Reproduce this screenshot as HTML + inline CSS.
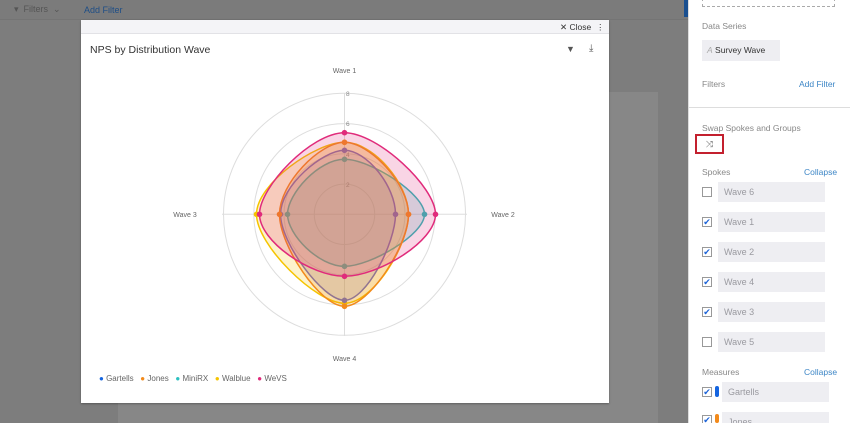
<!DOCTYPE html>
<html><head><meta charset="utf-8"><style>
*{margin:0;padding:0;box-sizing:border-box}
html{width:850px;height:423px;overflow:hidden}
body{width:850px;height:423px;overflow:hidden;background:#7d7d7d;font-family:"Liberation Sans",sans-serif;position:relative}
.abs{position:absolute}
.t{font-size:9px;color:#666}
.lab{font-size:8.5px;color:#888}
.box{position:absolute;left:718px;width:107px;height:20px;background:#eeeef2;color:#9a9aa0;font-size:9px;line-height:20px;padding-left:6px}
.cb{position:absolute;left:702px;width:10px;height:10px;border:1px solid #999;background:#fff;font-size:9px;line-height:8px;color:#1a62d8;text-align:center}
</style></head><body>
<div class="abs" style="left:0;top:0;width:688px;height:20px;background:#7b7b7b;border-bottom:1px solid #747474"></div>
<div class="abs t" style="left:14px;top:4px;color:#555;font-size:9px">▾&nbsp; Filters &nbsp;⌄</div>
<div class="abs t" style="left:84px;top:5px;color:#1e4e86;font-size:9px">Add Filter</div>
<div class="abs" style="left:684px;top:0;width:4px;height:17px;background:#1a4f8f"></div>
<div class="abs" style="left:118px;top:92px;width:540px;height:331px;background:#878787"></div>
<div class="abs" style="left:81px;top:20px;width:528px;height:383px;background:#fff;box-shadow:0 1px 2px rgba(0,0,0,.3)"></div>
<div class="abs" style="left:81px;top:20px;width:528px;height:14px;background:#f4f4f7;border-bottom:1px solid #e2e2e6"></div>
<div class="abs" style="left:560px;top:22px;font-size:8.5px;color:#333">✕ Close&nbsp;&nbsp;⋮</div>
<div class="abs" style="left:90px;top:44px;font-size:10.5px;color:#333">NPS by Distribution Wave</div>
<div class="abs" style="left:566px;top:44px;font-size:9px;color:#555">▼</div>
<div class="abs" style="left:589px;top:43px;font-size:10px;color:#555">⤓</div>
<svg class="abs" style="left:0;top:0" width="850" height="423" id="s">
<g fill="none" stroke="#ddd" stroke-width="1">
<circle cx="344.5" cy="214.3" r="30.2"/><circle cx="344.5" cy="214.3" r="60.5"/><circle cx="344.5" cy="214.3" r="90.7"/><circle cx="344.5" cy="214.3" r="121"/>
<line x1="344.5" y1="93" x2="344.5" y2="336"/><line x1="222" y1="214.3" x2="467" y2="214.3"/>
</g>
<g font-family="Liberation Sans" font-size="6.5" fill="#888">
<text x="346" y="96">8</text><text x="346" y="126">6</text><text x="346" y="157">4</text><text x="346" y="187">2</text>
</g>
<g id="ser"></g>
<g font-family="Liberation Sans" font-size="7" fill="#666" text-anchor="middle">
<text x="344.5" y="73">Wave 1</text><text x="503" y="217">Wave 2</text><text x="185" y="217">Wave 3</text><text x="344.5" y="361">Wave 4</text>
</g>
</svg>
<div class="abs" style="left:99px;top:374px;font-size:8px;color:#666;white-space:nowrap">
<span style="color:#1565e0">●</span> Gartells &nbsp; <span style="color:#f28a1b">●</span> Jones &nbsp; <span style="color:#2cc0c0">●</span> MiniRX &nbsp; <span style="color:#f5c400">●</span> Walblue &nbsp; <span style="color:#e02b7b">●</span> WeVS</div>

<div class="abs" style="left:688px;top:0;width:162px;height:423px;background:#fff;border-left:1px solid #ddd;overflow:hidden">
</div>
<div class="abs" style="left:702px;top:-2px;width:133px;height:9px;border:1px dashed #aaa;border-top:none"></div>
<div class="abs lab" style="left:702px;top:21px">Data Series</div>
<div class="abs" style="left:702px;top:40px;width:78px;height:21px;background:#eeeef2;font-size:8.5px;color:#333;line-height:21px;padding-left:5px"><i style="color:#aaa">A</i> Survey Wave</div>
<div class="abs lab" style="left:702px;top:79px">Filters</div>
<div class="abs" style="left:799px;top:79px;font-size:8.5px;color:#3d86c6">Add Filter</div>
<div class="abs" style="left:688px;top:107px;width:162px;height:1px;background:#ddd"></div>
<div class="abs lab" style="left:702px;top:123px">Swap Spokes and Groups</div>
<div class="abs" style="left:695px;top:134px;width:29px;height:20px;border:2px solid #c3202e;font-size:9px;color:#666;text-align:center;line-height:16px">⤨</div>
<div class="abs lab" style="left:702px;top:167px">Spokes</div>
<div class="abs" style="left:804px;top:167px;font-size:8.5px;color:#3d86c6">Collapse</div>
<div class="cb" style="top:187px"></div><div class="box" style="top:182px">Wave 6</div>
<div class="cb" style="top:217px">✔</div><div class="box" style="top:212px">Wave 1</div>
<div class="cb" style="top:247px">✔</div><div class="box" style="top:242px">Wave 2</div>
<div class="cb" style="top:277px">✔</div><div class="box" style="top:272px">Wave 4</div>
<div class="cb" style="top:307px">✔</div><div class="box" style="top:302px">Wave 3</div>
<div class="cb" style="top:337px"></div><div class="box" style="top:332px">Wave 5</div>
<div class="abs lab" style="left:702px;top:367px">Measures</div>
<div class="abs" style="left:804px;top:367px;font-size:8.5px;color:#3d86c6">Collapse</div>
<div class="cb" style="top:387px">✔</div><div class="abs" style="left:715px;top:386px;width:4px;height:11px;background:#1565e0;border-radius:2px"></div><div class="box" style="top:382px;left:722px">Gartells</div>
<div class="cb" style="top:415px">✔</div><div class="abs" style="left:715px;top:414px;width:4px;height:9px;background:#f28a1b;border-radius:2px"></div><div class="box" style="top:412px;left:722px;height:11px">Jones</div>
<script>
var cx=344.5,cy=214.3;
var S=[
["#2cbcb8",[55,80,52,57]],
["#f5c400",[72,64,89,88]],
["#7a6fb0",[64,51,86,64]],
["#f28a1b",[72,64,92,65]],
["#e02b7b",[81.6,91,62,85]]
];
var g=document.getElementById('ser'),h='';
S.forEach(function(s){
 var r=s[1];var p=[[cx,cy-r[0]],[cx+r[1],cy],[cx,cy+r[2]],[cx-r[3],cy]];
 var d='M'+p[0][0]+','+p[0][1];var k=0.19;
 for(var i=0;i<4;i++){var p0=p[(i+3)%4],p1=p[i],p2=p[(i+1)%4],p3=p[(i+2)%4];
  var c1=[p1[0]+(p2[0]-p0[0])*k,p1[1]+(p2[1]-p0[1])*k],c2=[p2[0]-(p3[0]-p1[0])*k,p2[1]-(p3[1]-p1[1])*k];
  d+=' C'+c1+' '+c2+' '+p2;}
 h+='<path d="'+d+'Z" fill="'+s[0]+'" fill-opacity="0.2" stroke="'+s[0]+'" stroke-width="1.5"/>';
 p.forEach(function(q){h+='<circle cx="'+q[0]+'" cy="'+q[1]+'" r="2.8" fill="'+s[0]+'"/>';});
});
g.innerHTML=h;
</script>
</body></html>
